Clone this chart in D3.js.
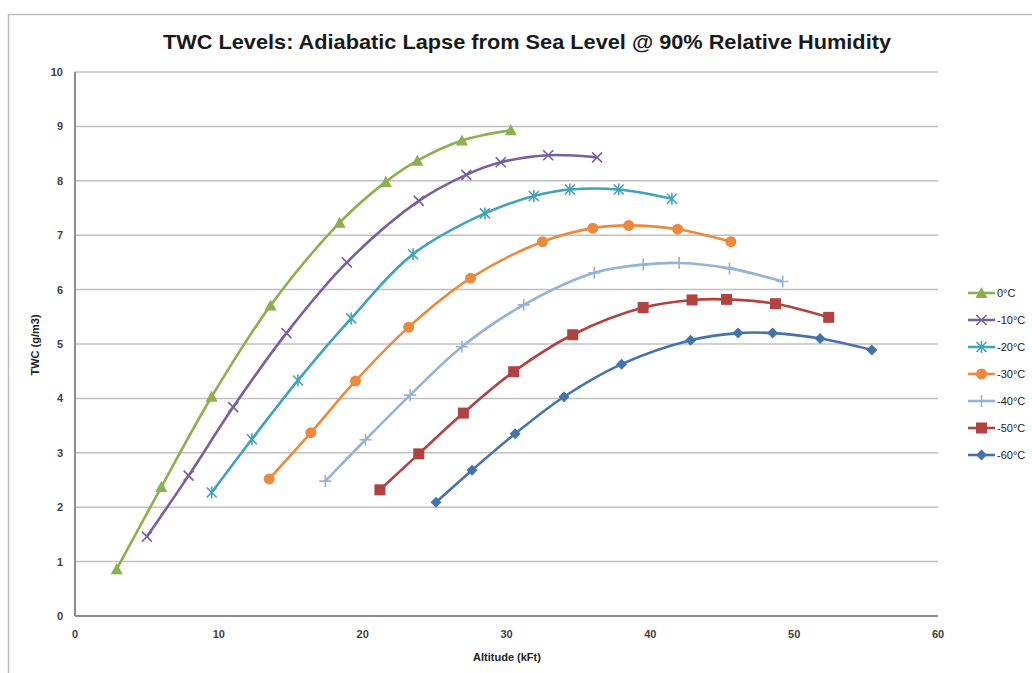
<!DOCTYPE html>
<html>
<head>
<meta charset="utf-8">
<script src="https://cdn.jsdelivr.net/npm/d3@7"></script>
<style>
  body { margin: 0; background: #fff; }
  svg text { font-family: "Liberation Sans Narrow", "Arial Narrow", "Liberation Sans", sans-serif; }
</style>
</head>
<body>
<div id="chart"></div>
<script>
// series labels, in legend order
var seriesNames = ["0°C", "-10°C", "-20°C", "-30°C", "-40°C", "-50°C", "-60°C"];

// altitude (kFt) and TWC (g/m3)
var alt_0   = [2.9, 6.0, 9.5, 13.6, 18.4, 21.6, 23.8, 26.9, 30.3];
var twc_0   = [0.86, 2.37, 4.03, 5.71, 7.23, 7.98, 8.37, 8.74, 8.93];
var alt_10  = [5.0, 7.9, 11.0, 14.7, 18.9, 23.9, 27.2, 29.6, 32.9, 36.3];
var twc_10  = [1.46, 2.58, 3.84, 5.2, 6.5, 7.63, 8.11, 8.34, 8.47, 8.43];
var alt_20  = [9.5, 12.3, 15.5, 19.2, 23.5, 28.5, 31.9, 34.4, 37.8, 41.5];
var twc_20  = [2.27, 3.25, 4.33, 5.47, 6.65, 7.40, 7.72, 7.84, 7.84, 7.67];
var alt_30  = [13.5, 16.4, 19.5, 23.2, 27.5, 32.5, 36.0, 38.5, 41.9, 45.6];
var twc_30  = [2.52, 3.37, 4.32, 5.31, 6.21, 6.88, 7.13, 7.18, 7.11, 6.88];
var alt_40  = [17.4, 20.2, 23.3, 26.9, 31.2, 36.1, 39.5, 42.0, 45.5, 49.2];
var twc_40  = [2.48, 3.24, 4.06, 4.95, 5.72, 6.31, 6.46, 6.49, 6.39, 6.15];
var alt_50  = [21.2, 23.9, 27.0, 30.5, 34.6, 39.5, 42.9, 45.3, 48.7, 52.4];
var twc_50  = [2.32, 2.98, 3.73, 4.49, 5.17, 5.67, 5.81, 5.82, 5.74, 5.49];
var alt_60  = [25.1, 27.6, 30.6, 34.0, 38.0, 42.8, 46.1, 48.5, 51.8, 55.4];
var twc_60  = [2.09, 2.68, 3.35, 4.03, 4.63, 5.07, 5.20, 5.20, 5.10, 4.89];

var xTicks = [0, 10, 20, 30, 40, 50, 60];
var yTicks = [0, 1, 2, 3, 4, 5, 6, 7, 8, 9, 10];

var colors = ["#8CB04D", "#7760A0", "#3FA3BC", "#EB8A3D", "#95B2D8", "#B2423F", "#4473AC"];
var markers = ["triangle", "x", "star", "circle", "plus", "square", "diamond"];

var series = [
  [alt_0, twc_0], [alt_10, twc_10], [alt_20, twc_20], [alt_30, twc_30],
  [alt_40, twc_40], [alt_50, twc_50], [alt_60, twc_60]
].map(function (s, i) {
  return {
    name: seriesNames[i], color: colors[i], marker: markers[i],
    values: s[0].map(function (a, j) { return { x: a, y: s[1][j] }; })
  };
});

var width = 1032, height = 673;
var margin = { left: 75, right: 94, top: 72, bottom: 57 };

var svg = d3.select("#chart").append("svg")
  .attr("width", width)
  .attr("height", height);

// chart frame
svg.append("path")
  .attr("d", "M8.5," + height + "V14.5H" + width)
  .attr("fill", "none")
  .attr("stroke", "#BDBDBD")
  .attr("stroke-width", 1.5);

var x = d3.scaleLinear().domain([0, 60]).range([margin.left, width - margin.right]);
var y = d3.scaleLinear().domain([0, 10]).range([height - margin.bottom, margin.top]);

// gridlines
svg.append("g")
  .selectAll("line")
  .data(yTicks.filter(function (d) { return d > 0; }))
  .enter().append("line")
  .attr("x1", x(0)).attr("x2", x(60))
  .attr("y1", function (d) { return y(d); })
  .attr("y2", function (d) { return y(d); })
  .attr("stroke", "#C0C0C0")
  .attr("stroke-width", 1.5);

// axes lines
svg.append("line")
  .attr("x1", x(0)).attr("x2", x(60)).attr("y1", y(0)).attr("y2", y(0))
  .attr("stroke", "#8C8C8C").attr("stroke-width", 2);
svg.append("line")
  .attr("x1", x(0)).attr("x2", x(0)).attr("y1", y(0)).attr("y2", y(10))
  .attr("stroke", "#8C8C8C").attr("stroke-width", 2);

// tick labels
svg.append("g").selectAll("text")
  .data(yTicks).enter().append("text")
  .attr("x", x(0) - 12)
  .attr("y", function (d) { return y(d) + 4; })
  .attr("text-anchor", "end")
  .attr("font-size", 11)
  .attr("font-weight", "bold")
  .attr("fill", "#404040")
  .text(function (d) { return d; });

svg.append("g").selectAll("text")
  .data(xTicks).enter().append("text")
  .attr("x", function (d) { return x(d); })
  .attr("y", y(0) + 22)
  .attr("text-anchor", "middle")
  .attr("font-size", 11)
  .attr("font-weight", "bold")
  .attr("fill", "#404040")
  .text(function (d) { return d; });

// axis titles
svg.append("text")
  .attr("x", 507).attr("y", 661)
  .attr("text-anchor", "middle")
  .attr("font-size", 11)
  .attr("font-weight", "bold")
  .attr("fill", "#222")
  .text("Altitude (kFt)");

svg.append("text")
  .attr("transform", "translate(39,345) rotate(-90)")
  .attr("text-anchor", "middle")
  .attr("font-size", 11)
  .attr("font-weight", "bold")
  .attr("fill", "#222")
  .text("TWC (g/m3)");

// title
svg.append("text")
  .attr("x", 527).attr("y", 49)
  .attr("text-anchor", "middle")
  .attr("font-size", 21)
  .attr("font-weight", "bold")
  .attr("fill", "#1a1a1a")
  .attr("textLength", 728)
  .attr("lengthAdjust", "spacingAndGlyphs")
  .text("TWC Levels: Adiabatic Lapse from Sea Level @ 90% Relative Humidity");

var line = d3.line()
  .x(function (d) { return x(d.x); })
  .y(function (d) { return y(d.y); })
  .curve(d3.curveCatmullRom.alpha(0.5));

function drawMarker(g, type, color) {
  if (type == "triangle")
    g.append("path").attr("d", "M0,-6L6,5H-6Z").attr("fill", color);
  if (type == "circle")
    g.append("circle").attr("r", 5.5).attr("fill", color);
  if (type == "square")
    g.append("rect").attr("x", -5.5).attr("y", -5.5).attr("width", 11).attr("height", 11).attr("fill", color);
  if (type == "diamond")
    g.append("path").attr("d", "M0,-5.5L5.5,0L0,5.5L-5.5,0Z").attr("fill", color);
  if (type == "x" || type == "star")
    g.append("path").attr("d", "M-5,-5L5,5M-5,5L5,-5").attr("stroke", color).attr("stroke-width", 1.6);
  if (type == "star")
    g.append("path").attr("d", "M0,-6V6").attr("stroke", color).attr("stroke-width", 1.6);
  if (type == "plus")
    g.append("path").attr("d", "M0,-6V6M-6,0H6").attr("stroke", color).attr("stroke-width", 1.6);
}

var sg = svg.append("g").selectAll("g")
  .data(series).enter().append("g");

sg.append("path")
  .attr("d", function (d) { return line(d.values); })
  .attr("fill", "none")
  .attr("stroke", function (d) { return d.color; })
  .attr("stroke-width", 2.6);

sg.each(function (s) {
  d3.select(this).selectAll(".pt")
    .data(s.values).enter().append("g")
    .attr("class", "pt")
    .attr("transform", function (d) { return "translate(" + x(d.x) + "," + y(d.y) + ")"; })
    .each(function () { drawMarker(d3.select(this), s.marker, s.color); });
});

// legend
var legend = svg.append("g").selectAll("g")
  .data(series).enter().append("g")
  .attr("transform", function (d, i) { return "translate(968," + (293 + i * 27) + ")"; });

legend.append("line")
  .attr("x1", 0).attr("x2", 27)
  .attr("stroke", function (d) { return d.color; })
  .attr("stroke-width", 2.6);

legend.each(function (s) {
  var m = d3.select(this).append("g").attr("transform", "translate(13.5,0)");
  drawMarker(m, s.marker, s.color);
});

legend.append("text")
  .attr("x", 29).attr("y", 4)
  .attr("font-size", 11)
  .attr("fill", "#222")
  .text(function (d) { return d.name; });
</script>
</body>
</html>
